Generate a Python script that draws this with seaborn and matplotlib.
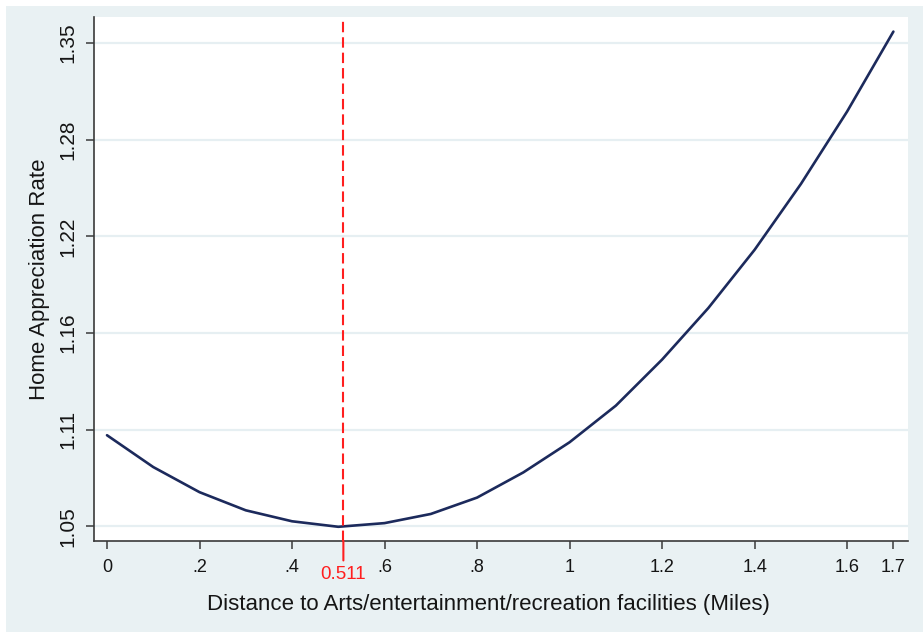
import numpy as np
import pandas as pd
import matplotlib
matplotlib.use("Agg")
import matplotlib.pyplot as plt
import matplotlib.transforms as mtransforms
from matplotlib.patches import Rectangle
from matplotlib.ticker import FixedLocator, FixedFormatter, NullLocator
import seaborn as sns

# Predicted home appreciation rate by distance to facilities
distance_miles = [0.0, 0.1, 0.2, 0.3, 0.4, 0.5, 0.6, 0.7, 0.8, 0.9,
                  1.0, 1.1, 1.2, 1.3, 1.4, 1.5, 1.6, 1.7]
appreciation_rate = [1.102, 1.084, 1.070, 1.060, 1.054, 1.051, 1.053, 1.058, 1.067,
                     1.081, 1.098, 1.119, 1.146, 1.177, 1.213, 1.255, 1.303, 1.358]

turning_point = 0.511

x_ticks = [0, 0.2, 0.4, 0.6, 0.8, 1.0, 1.2, 1.4, 1.6, 1.7]
x_tick_labels = ["0", ".2", ".4", ".6", ".8", "1", "1.2", "1.4", "1.6", "1.7"]
y_ticks = [1.0513, 1.1052, 1.1618, 1.2214, 1.2840, 1.3499]
y_tick_labels = ["1.05", "1.11", "1.16", "1.22", "1.28", "1.35"]

df = pd.DataFrame({"distance": distance_miles, "rate": appreciation_rate})

sns.set_style("white")
plt.rcParams["font.family"] = ["Liberation Sans", "DejaVu Sans"]

BG = "#E9F1F3"
GRID = "#E6EFF2"
LINE = "#1C2A5C"
AXIS = "#3A3A3A"
RED = "#FF1F1F"
TEXT = "#151515"

W, H = 923, 632
fig = plt.figure(figsize=(W / 100, H / 100), dpi=100, facecolor="white")
fig.patches.append(Rectangle((6 / W, 0), 1 - 6 / W, 1 - 6 / H,
                             transform=fig.transFigure, facecolor=BG,
                             edgecolor="none", zorder=-10))

left, right, bottom, top = 94 / W, 908 / W, 1 - 541 / H, 1 - 17 / H
ax = fig.add_axes([left, bottom, right - left, top - bottom])
ax.set_zorder(5)
ax.set_facecolor("white")

ax.set_yscale("log")
ax.set_xlim(-0.0281, 1.7316)
ax.set_ylim(1.0433, 1.3683)

for yt in y_ticks:
    ax.axhline(yt, color=GRID, lw=1.6, zorder=1)

sns.lineplot(data=df, x="distance", y="rate", ax=ax, color=LINE, lw=1.9,
             zorder=3, legend=False)

# turning point of the fitted curve
ax.axvline(turning_point, color=RED, lw=1.5, dashes=(5.0, 2.4), zorder=4)
trans = mtransforms.blended_transform_factory(ax.transData, ax.transAxes)
ax.annotate("", xy=(turning_point, 0), xycoords=trans,
            xytext=(0, -14), textcoords="offset points",
            arrowprops=dict(arrowstyle="-", color=RED, lw=1.5,
                            shrinkA=0, shrinkB=0))
ax.annotate(f"{turning_point:.3f}", xy=(turning_point, 0), xycoords=trans,
            xytext=(0, -18), textcoords="offset points",
            ha="center", va="top", color=RED, fontsize=13.5)

ax.xaxis.set_major_locator(FixedLocator(x_ticks))
ax.xaxis.set_major_formatter(FixedFormatter(x_tick_labels))
ax.yaxis.set_major_locator(FixedLocator(y_ticks))
ax.yaxis.set_major_formatter(FixedFormatter(y_tick_labels))
ax.yaxis.set_minor_locator(NullLocator())
ax.xaxis.set_minor_locator(NullLocator())

ax.tick_params(axis="x", direction="out", length=6, width=1.1, color=AXIS,
               pad=7, labelsize=13, labelcolor=TEXT, bottom=True)
ax.tick_params(axis="y", direction="out", length=5.5, width=1.1, color=AXIS,
               pad=6.5, labelsize=15, labelcolor=TEXT, left=True)
for lab in ax.get_yticklabels():
    lab.set_rotation(90)
    lab.set_va("center")

for side in ["top", "right"]:
    ax.spines[side].set_visible(False)
for side in ["left", "bottom"]:
    ax.spines[side].set_color(AXIS)
    ax.spines[side].set_linewidth(1.2)

ax.set_xlabel("Distance to Arts/entertainment/recreation facilities (Miles)",
              fontsize=16, color=TEXT, labelpad=13)
ax.set_ylabel("Home Appreciation Rate", fontsize=16, color=TEXT,
              labelpad=6)
ax.xaxis.label.set_x(0.484)

fig.savefig("out.png", dpi=100, facecolor=fig.get_facecolor())
